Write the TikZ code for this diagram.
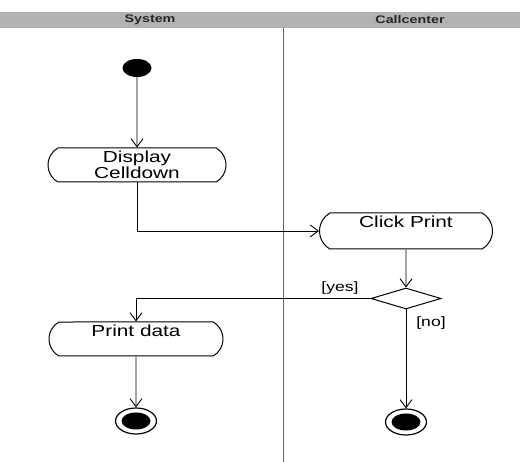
\documentclass[tikz,border=0pt]{standalone}
\usepackage{fontspec}
\setmainfont{Liberation Sans}[FakeStretch=1.3]
\usetikzlibrary{shapes.misc,shapes.geometric,arrows.meta}

\tikzset{
  action/.style={draw, rounded rectangle, rounded rectangle arc length=120,
    line width=1pt, inner xsep=0pt, inner ysep=2.5pt, align=center,
    font=\fontsize{16}{15.5}\selectfont},
  startnode/.style={ellipse, fill=black, minimum width=29pt, minimum height=18pt, inner sep=0pt},
  endnode/.style={ellipse, draw, line width=1.2pt, fill=white, minimum width=41pt,
    minimum height=26pt, inner sep=0pt,
    path picture={\fill[black] (path picture bounding box.center) ellipse [x radius=14.5pt, y radius=8.5pt];}},
  decision/.style={diamond, draw, line width=1pt, minimum width=70pt, minimum height=21pt, inner sep=0pt},
  flow/.style={line width=0.9pt, -{Straight Barb[length=8pt,width=12pt,line width=0.9pt]}},
  guard/.style={font=\fontsize{13.5}{14}\selectfont, inner sep=0pt},
  lanehead/.style={font=\bfseries\fontsize{11}{12}\selectfont, text=black!85, inner sep=0pt}
}

\begin{document}
\begin{tikzpicture}[x=1pt, y=-1pt]
  \useasboundingbox (0,0) rectangle (520,462);

  % swimlane header and divider
  \fill[black!30] (0,12) rectangle (520,28);
  \node[lanehead] (sys) at (150,20) {System};
  \node[lanehead] (cc) at (410,20) {Callcenter};
  \coordinate (divtop) at (283,28);
  \coordinate (divbot) at (283,462);
  \draw[black!60, line width=0.8pt] (divtop) -- (divbot);

  % activities
  \node[startnode] (start) at (137,68) {};
  \node[action, minimum width=178pt, minimum height=34pt] (disp) at (137,165) {Display\\Celldown};
  \node[action, minimum width=173pt, minimum height=36pt, text height=12.5pt, text depth=18.5pt] (click) at (406,231) {Click Print};
  \node[decision] (dec) at (406,298.5) {};
  \node[action, minimum width=174pt, minimum height=34pt, text height=12pt, text depth=17pt] (print) at (136,339) {Print data};
  \node[endnode] (end1) at (136,421) {};
  \node[endnode] (end2) at (406,422) {};

  % guards
  \node[guard] (yes) at (340,288) {[yes]};
  \node[guard] (no) at (431,323) {[no]};

  % flows
  \draw[flow] (start) -- (disp);
  \draw[flow] (disp.south) |- (click.west);
  \draw[flow] (click) -- (dec);
  \draw[flow] (dec.west) -| (print.north);
  \draw[flow] (dec) -- (end2);
  \draw[flow] (print) -- (end1);
\end{tikzpicture}
\end{document}
